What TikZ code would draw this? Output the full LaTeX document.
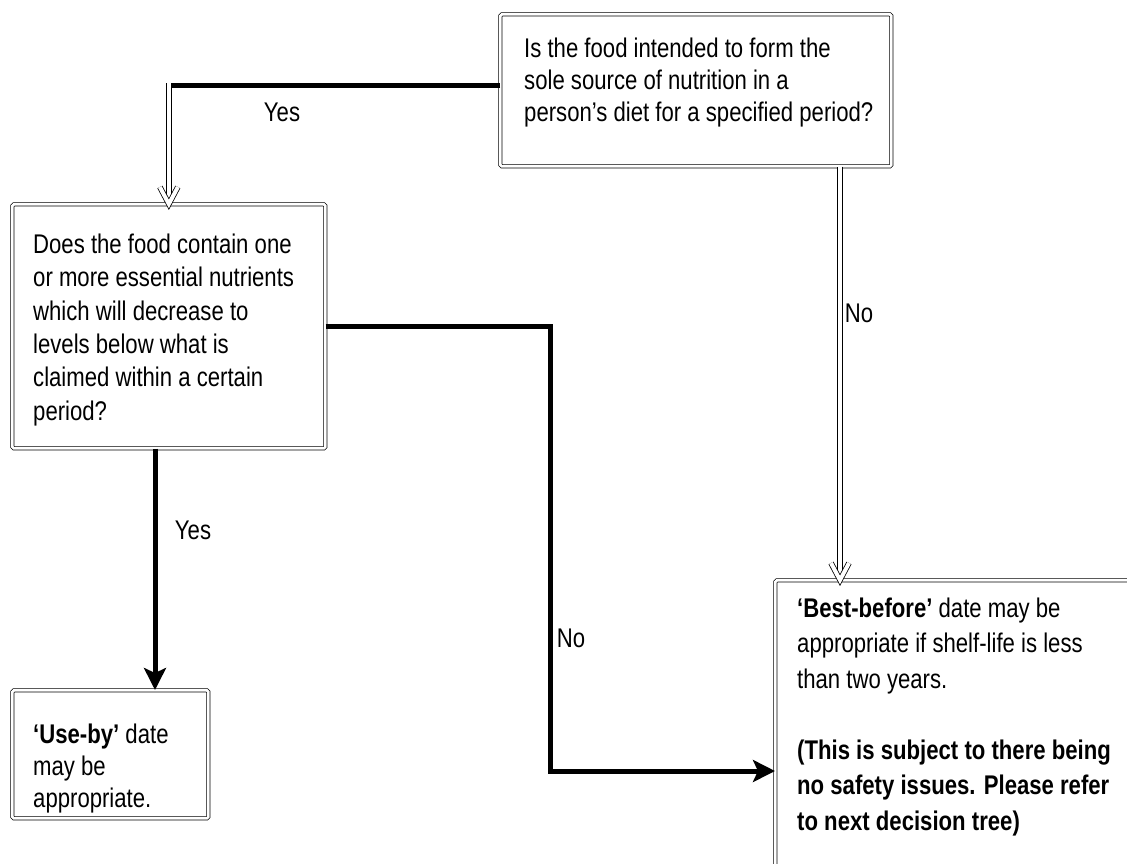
\documentclass[tikz,border=0pt]{standalone}
\usepackage{fontspec}
\setmainfont[FakeStretch=0.82]{Liberation Sans}
\usetikzlibrary{arrows.meta,calc}
\begin{document}
\begin{tikzpicture}[x=1pt,y=-1pt,
  box/.style={draw=black, double=white, double distance=2.6pt, line width=0.7pt, rounded corners=1.5pt, inner sep=0pt, anchor=north west},
  txt/.style={inner sep=0pt, anchor=north west, align=left},
  lbl/.style={inner sep=0pt, font=\fontsize{27}{33}\selectfont},
  thk/.style={line width=5pt},
  dbl/.style={draw=black, double=white, double distance=4pt, line width=0.8pt},
  tip/.style={-{Stealth[length=22pt,width=22pt,inset=5pt]}}
  ]
\fill[white] (0,0) rectangle (1127,863);
\useasboundingbox (0,0) rectangle (1127,863);

% boxes
\node[box, minimum width=391pt, minimum height=152pt] (q1) at (500,14) {};
\node[box, minimum width=313pt, minimum height=244pt] (q2) at (12,204) {};
\node[box, minimum width=196pt, minimum height=128pt] (ub) at (12,690) {};
\node[box, minimum width=380pt, minimum height=320pt] (bb) at (775,580) {};

% texts
\node[txt, font=\fontsize{27}{32}\selectfont] (q1t) at (524,37)
  {\rule{0pt}{20pt}Is the food intended to form the\\ sole source of nutrition in a\\ person’s diet for a specified period?};
\node[txt, font=\fontsize{27}{33.4}\selectfont] (q2t) at (33,233)
  {\rule{0pt}{20pt}Does the food contain one\\ or more essential nutrients\\ which will decrease to\\ levels below what is\\ claimed within a certain\\ period?};
\node[txt, font=\fontsize{27}{32}\selectfont] (ubt) at (33,723)
  {\rule{0pt}{20pt}\textbf{‘Use-by’} date\\ may be\\ appropriate.};
\node[txt, font=\fontsize{27}{35.5}\selectfont] (bbt) at (797,597)
  {\rule{0pt}{20pt}\textbf{‘Best-before’} date may be\\ appropriate if shelf-life is less\\ than two years.\\[35.5pt]
   \textbf{(This is subject to there being}\\ \textbf{no safety issues. Please refer}\\ \textbf{to next decision tree)}};

% helper coordinates
\coordinate (yx) at (155,0);
\coordinate (nx) at (840,0);
\coordinate (bend) at (550,771);
\coordinate (yc) at ($(q1.west)+(0,-5)$);
\coordinate (ycorner) at (q2.north |- yc);

% Yes from q1 to q2
\draw[thk] (q1.west |- yc) -- ($(ycorner)+(2,0)$);
\draw[dbl] ($(ycorner)+(0,-2)$) -- (q2.north);
\draw[dbl] ($(q2.north)+(-9,-17)$) -- (q2.north) -- ($(q2.north)+(9,-17)$);
\node[lbl] (l1) at (282,112) {Yes};

% No from q1 to bb
\draw[dbl] (q1.south -| nx) -- (bb.north -| nx);
\draw[dbl] ($(bb.north -| nx)+(-9,-17)$) -- (bb.north -| nx) -- ($(bb.north -| nx)+(9,-17)$);
\node[lbl] (l2) at (859,313) {No};

% Yes from q2 to ub
\draw[thk, tip] (q2.south -| yx) -- (ub.north -| yx);
\node[lbl] (l3) at (193,530) {Yes};

% No from q2 to bb
\draw[thk, tip] (q2.east) -| (bend) -- (bb.west |- bend);
\node[lbl] (l4) at (571,638) {No};
\end{tikzpicture}
\end{document}
